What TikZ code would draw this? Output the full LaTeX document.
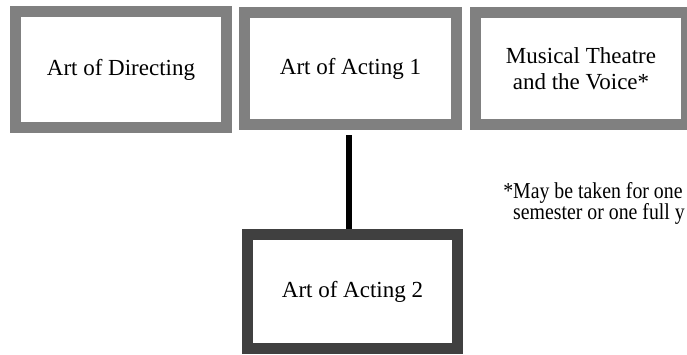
\documentclass[tikz,border=0pt]{standalone}
\usepackage{fontspec}
\setmainfont{Liberation Serif}
\definecolor{frameGray}{HTML}{808080}
\definecolor{frameDark}{HTML}{404040}
\tikzset{
  course/.style={draw=frameGray, line width=11pt, fill=white, inner sep=0pt,
    align=center, font=\fontsize{23}{26}\selectfont},
  current/.style={course, draw=frameDark},
  link/.style={draw=black, line width=6.5pt},
  note/.style={inner sep=0pt, anchor=base west, font=\fontsize{19.8}{17}\selectfont}
}
% footnote text is set slightly taller than wide
\newcommand{\tallnote}[1]{\scalebox{1}[1.15]{\begin{tabular}[t]{@{}l@{}}#1\end{tabular}}}
\begin{document}
\begin{tikzpicture}[x=1pt, y=-1pt]
  \useasboundingbox (0,0) rectangle (687,354);
  \clip (0,0) rectangle (687,354);
  \fill[white] (0,0) rectangle (687,354);

  % course boxes
  \node[course, minimum width=211pt, minimum height=116pt] (dir) at (121,69.5) {Art of Directing};
  \node[course, minimum width=212pt, minimum height=112pt] (act1) at (350.5,68.5) {Art of Acting 1};
  \node[course, minimum width=211pt, minimum height=112pt] (mus) at (581,68.5) {Musical Theatre\\and the Voice*};
  \node[current, minimum width=210pt, minimum height=114pt] (act2) at (352.5,291.5) {Art of Acting 2};

  % prerequisite link
  \draw[link] ([xshift=-1.5pt, yshift=-5pt]act1.south) -- ([xshift=-3.5pt]act2.north);

  % footnote with hanging asterisk
  \node[note] (fn) at (513,198) {\tallnote{\llap{*}May be taken for one\\semester or one full y}};
\end{tikzpicture}
\end{document}
